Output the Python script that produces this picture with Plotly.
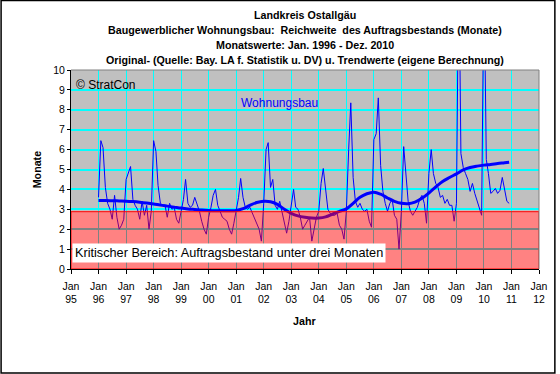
import pandas as pd
import plotly.graph_objects as go

# ---------------- data ----------------
months = pd.date_range("1996-01-01", "2010-12-01", freq="MS")

y1996 = [3.6, 6.45, 6.1, 4.1, 3.3, 3.0, 2.5, 3.7, 2.6, 2.0, 2.2, 2.5]
y1997 = [4.5, 4.9, 5.15, 3.5, 3.2, 3.0, 2.5, 3.4, 2.7, 3.2, 2.0, 2.9]
y1998 = [6.45, 5.9, 4.2, 3.3, 3.2, 3.2, 2.6, 3.3, 3.0, 3.1, 2.5, 2.3]
y1999 = [2.9, 3.5, 4.5, 3.3, 3.1, 3.2, 3.6, 3.3, 2.9, 2.4, 2.0, 1.75]
y2000 = [2.6, 3.1, 3.7, 4.0, 3.2, 2.9, 2.6, 2.5, 2.4, 2.0, 1.75, 2.3]
y2001 = [2.9, 3.6, 4.55, 3.6, 3.1, 3.0, 3.1, 2.8, 2.5, 2.2, 2.0, 1.4]
y2002 = [3.3, 6.0, 6.35, 4.1, 4.5, 3.2, 3.0, 3.4, 2.9, 2.3, 1.8, 2.4]
y2003 = [3.2, 4.0, 3.1, 3.0, 2.6, 2.0, 2.2, 2.4, 2.6, 1.4, 2.0, 2.6]
y2004 = [2.9, 4.3, 5.05, 3.9, 3.0, 2.8, 2.7, 2.7, 2.8, 2.2, 2.0, 1.5]
y2005 = [2.9, 6.0, 8.35, 4.6, 3.4, 3.1, 3.3, 3.0, 2.9, 3.0, 2.4, 2.1]
y2006 = [6.5, 6.8, 8.6, 5.2, 3.9, 3.3, 2.9, 3.3, 3.5, 2.7, 2.5, 1.0]
y2007 = [2.9, 6.15, 4.8, 3.4, 2.9, 2.7, 2.9, 3.1, 3.5, 3.7, 3.3, 2.3]
y2008 = [4.8, 6.0, 4.8, 4.3, 4.1, 3.6, 3.7, 3.3, 3.5, 3.2, 3.2, 2.4]
y2009 = [3.3, 16.0, 5.8, 5.1, 4.8, 4.5, 3.9, 4.3, 3.8, 3.4, 3.0, 2.7]
y2010 = [15.0, 5.5, 4.8, 3.8, 3.9, 4.05, 3.8, 3.95, 4.6, 3.9, 3.4, 3.3]

original = (y1996 + y1997 + y1998 + y1999 + y2000 + y2001 + y2002 + y2003
            + y2004 + y2005 + y2006 + y2007 + y2008 + y2009 + y2010)

trend_dates = list(pd.date_range("1996-01-01", "2010-10-01", freq="QS")) + [pd.Timestamp("2010-12-01")]
trend = [3.44, 3.44, 3.43, 3.42,
         3.41, 3.39, 3.36, 3.32,
         3.27, 3.21, 3.16, 3.11,
         3.06, 3.02, 2.99, 2.96,
         2.94, 2.93, 2.93, 2.93,
         2.94, 3.03, 3.20, 3.34,
         3.40, 3.38, 3.25, 3.00,
         2.80, 2.67, 2.60, 2.56,
         2.56, 2.62, 2.76, 2.90,
         3.02, 3.30, 3.60, 3.78,
         3.86, 3.76, 3.57, 3.40,
         3.30, 3.28, 3.36, 3.55,
         3.82, 4.12, 4.40, 4.60,
         4.78, 4.98, 5.10, 5.17,
         5.22, 5.25, 5.30, 5.34,
         5.37]

crit_level = 2.88
x_start, x_end = "1995-01-01", "2012-01-01"
y_min, y_max = 0, 10

title_lines = [
    "Landkreis Ostallgäu",
    "Baugewerblicher Wohnungsbau:  Reichweite  des Auftragsbestands (Monate)",
    "Monatswerte: Jan. 1996 - Dez. 2010",
    "Original- (Quelle: Bay. LA f. Statistik u. DV) u. Trendwerte (eigene Berechnung)",
]

FONT = "Liberation Sans, Arial, sans-serif"
GRID = "#00FFFF"

# ---------------- figure ----------------
fig = go.Figure()

fig.add_trace(go.Scatter(x=months, y=original, mode="lines",
                         line=dict(color="#0000FF", width=1), hoverinfo="skip",
                         showlegend=False))
fig.add_trace(go.Scatter(x=trend_dates, y=trend, mode="lines",
                         line=dict(color="#0000FF", width=3, shape="spline"),
                         hoverinfo="skip", showlegend=False))
# critical region (red checker-like overlay)
fig.add_trace(go.Scatter(x=[x_start, x_end, x_end, x_start, x_start],
                         y=[y_min, y_min, crit_level, crit_level, y_min],
                         mode="lines", line=dict(color="#FF0000", width=1),
                         fill="toself", fillcolor="rgba(0,0,0,0)",
                         fillpattern=dict(shape=".", fgcolor="#FF0000", size=2, solidity=0.9),
                         hoverinfo="skip", showlegend=False))

# white background below critical level (under the grid)
fig.add_shape(type="rect", xref="x", yref="y", x0=x_start, x1=x_end, y0=y_min, y1=crit_level,
              fillcolor="white", line=dict(width=0), layer="below")
# top / right plot border (grey)
fig.add_shape(type="line", xref="paper", yref="paper", x0=0, x1=1, y0=1, y1=1,
              line=dict(color="#808080", width=1))
fig.add_shape(type="line", xref="paper", yref="paper", x0=1, x1=1, y0=0, y1=1,
              line=dict(color="#808080", width=1))
# outer frame
L, R, T, B = 71, 17, 70, 105
W, H = 560, 374
pw, ph = W - L - R, H - T - B
def px_x(x): return (x - L) / pw
def px_y(y): return (H - B - y) / ph
fig.add_shape(type="rect", xref="paper", yref="paper",
              x0=px_x(0.5), x1=px_x(W - 1), y0=px_y(H - 1), y1=px_y(0.5),
              line=dict(color="black", width=1.5), fillcolor="rgba(0,0,0,0)")

# titles
for txt, ypx in zip(title_lines, [15, 30, 45, 60]):
    fig.add_annotation(text="<b>" + txt + "</b>", xref="paper", yref="paper",
                       x=0.5, y=px_y(ypx), xanchor="center", yanchor="middle",
                       showarrow=False, font=dict(family=FONT, size=10.7, color="black"))

fig.add_annotation(text="© StratCon", xref="paper", yref="paper", x=px_x(74), y=px_y(85),
                   xanchor="left", yanchor="middle", showarrow=False,
                   font=dict(family=FONT, size=12, color="black"))
fig.add_annotation(text="Wohnungsbau", xref="paper", yref="paper", x=px_x(281), y=px_y(103),
                   xanchor="center", yanchor="middle", showarrow=False,
                   font=dict(family=FONT, size=12, color="#0000FF"))
fig.add_annotation(text="Kritischer Bereich: Auftragsbestand unter drei Monaten",
                   xref="paper", yref="y", x=0, y=0.8, xanchor="left", yanchor="middle",
                   showarrow=False, bgcolor="white", borderpad=2, xshift=1,
                   font=dict(family=FONT, size=12.7, color="black"))
fig.add_annotation(text="<b>Monate</b>", xref="paper", yref="paper", x=px_x(37), y=px_y(170),
                   textangle=-90, showarrow=False, xanchor="center", yanchor="middle",
                   font=dict(family=FONT, size=10.7, color="black"))
fig.add_annotation(text="<b>Jahr</b>", xref="paper", yref="paper", x=px_x(306), y=px_y(321),
                   showarrow=False, xanchor="center", yanchor="middle",
                   font=dict(family=FONT, size=10.7, color="black"))

fig.update_layout(
    width=W, height=H,
    margin=dict(l=L, r=R, t=T, b=B, pad=0),
    paper_bgcolor="white", plot_bgcolor="#C0C0C0",
    showlegend=False,
    font=dict(family=FONT, size=10, color="black"),
    xaxis=dict(type="date", range=[x_start, x_end], tick0=x_start, dtick="M12",
               tickformat="%b<br>%y", showgrid=True, gridcolor=GRID, gridwidth=1,
               showline=True, linecolor="black", linewidth=1,
               ticks="outside", ticklen=4, tickcolor="black", zeroline=False,
               ticklabelstandoff=3,
               tickfont=dict(family=FONT, size=10.5)),
    yaxis=dict(range=[y_min, y_max], dtick=1, tick0=0, showgrid=True, gridcolor=GRID,
               gridwidth=2, showline=True, linecolor="black", linewidth=1,
               ticks="outside", ticklen=3, tickcolor="black", zeroline=False,
               tickfont=dict(family=FONT, size=10.5)),
)

fig.write_html("out.html", config={"displayModeBar": False},
               post_script="document.body.style.margin='0px';document.body.style.overflow='hidden';")
